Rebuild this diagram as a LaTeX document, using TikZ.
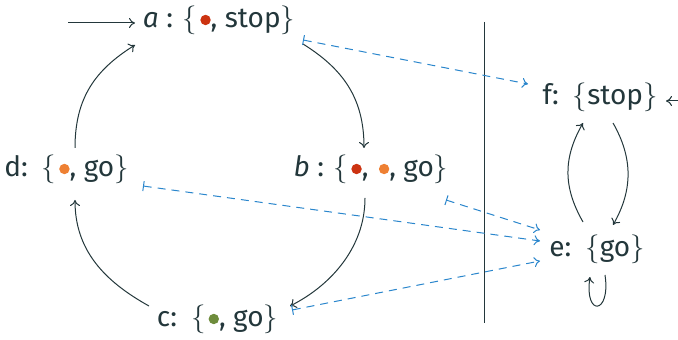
\documentclass[tikz,border=0pt]{standalone}
\usepackage{fontspec}
\setmainfont{Fira Sans}
\usetikzlibrary{arrows.meta}
\definecolor{txt}{HTML}{23373B}
\definecolor{dblue}{HTML}{2A86CC}
\definecolor{bred}{HTML}{CC3311}
\definecolor{borange}{HTML}{EE8033}
\definecolor{bgreen}{HTML}{6E8C3C}
\newcommand{\bul}[1]{\hspace{1.5pt}\tikz[baseline=-4pt]\fill[#1] (0,0) circle (2.6pt);}
\newcommand{\lb}{$\{$}
\newcommand{\rb}{$\}$}
\tikzset{
  st/.style={text=txt, inner sep=0pt, anchor=base, font=\fontsize{14}{16}\selectfont},
  tr/.style={draw=txt, line width=0.5pt, -{To[length=3pt,width=5pt]}},
  lk/.style={draw=dblue, line width=0.5pt, dash pattern=on 4pt off 3pt, {Bar[width=5pt]}-{To[length=3pt,width=5pt]}}
}
\begin{document}
\begin{tikzpicture}[x=0.5pt,y=-0.5pt]
\useasboundingbox (0,0) rectangle (678,340);
\node[st] (a) at (219,28) {\textit{a} : \lb\bul{bred}, stop\rb};
\node[st] (b) at (371,177) {\textit{b} : \lb\bul{bred}, \bul{borange}, go\rb};
\node[st] (d) at (66.5,177) {d:\enspace\lb\bul{borange}, go\rb};
\node[st] (c) at (217.5,327) {c:\enspace\lb\bul{bgreen}, go\rb};
\node[st] (f) at (600,105) {f:\enspace\lb stop\rb};
\node[st] (e) at (597,257) {e:\enspace\lb go\rb};
\coordinate (ia) at (68,23);
\coordinate (if) at (678,101);
\draw[txt, line width=0.5pt] (484,22) -- (484,323);
% initial arrows
\draw[tr] (ia) -- ([shift={(-84,-5)}]a.base);
\draw[tr] (if) -- ([shift={(66,-4)}]f.base);
% cycle
\draw[tr] ([shift={(84,16)}]a.base) .. controls +(40,25) and +(0,-50) .. ([shift={(-7,-29)}]b.base);
\draw[tr] ([shift={(-6,21)}]b.base) .. controls +(0,50) and +(40,-20) .. ([shift={(72.5,-21)}]c.base);
\draw[tr] ([shift={(-68.5,-21)}]c.base) .. controls +(-45,-25) and +(0,50) .. ([shift={(8.5,23)}]d.base);
\draw[tr] ([shift={(8.5,-29)}]d.base) .. controls +(0,-50) and +(-40,25) .. ([shift={(-84,17)}]a.base);
% e/f
\draw[tr] ([shift={(-14,-35)}]e.base) .. controls +(-20,-35) and +(-20,35) .. ([shift={(-17,18)}]f.base);
\draw[tr] ([shift={(13,18)}]f.base) .. controls +(20,35) and +(20,-35) .. ([shift={(16,-32)}]e.base);
\draw[tr] ([shift={(8,18)}]e.base) .. controls +(6,40) and +(-6,40) .. ([shift={(-7,20)}]e.base);
% links
\draw[lk] ([shift={(84,12)}]a.base) -- ([shift={(-72,-21)}]f.base);
\draw[lk] ([shift={(76.5,9)}]d.base) -- ([shift={(-57,-16)}]e.base);
\draw[lk] ([shift={(75,23)}]b.base) -- ([shift={(-57,-27)}]e.base);
\draw[lk] ([shift={(74.5,-17)}]c.base) -- ([shift={(-57,4)}]e.base);
\end{tikzpicture}
\end{document}
